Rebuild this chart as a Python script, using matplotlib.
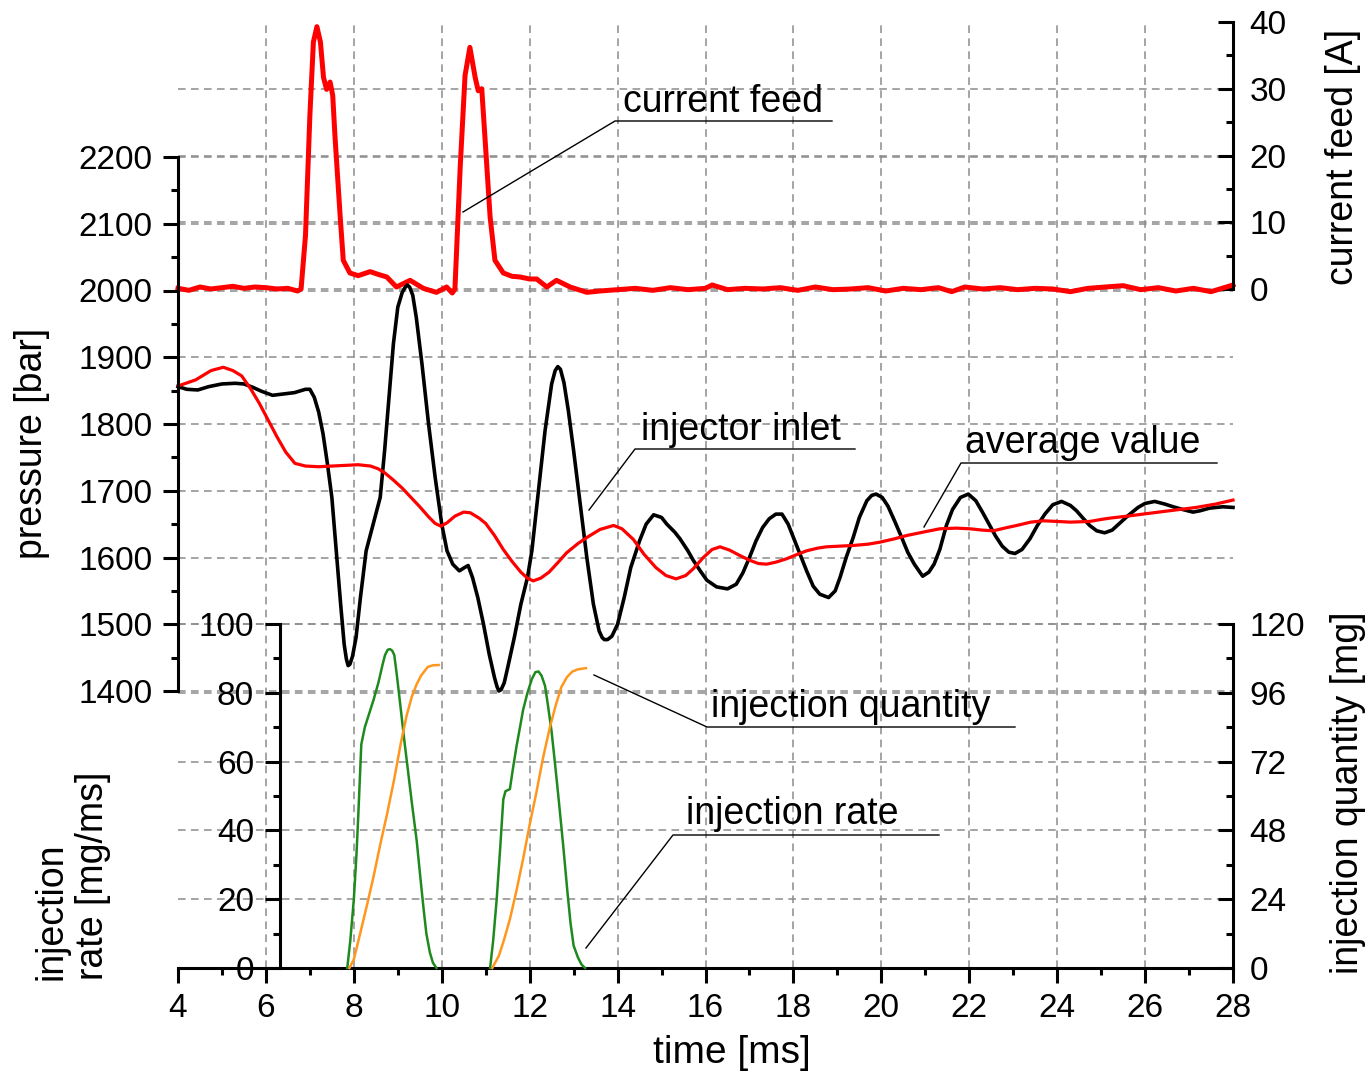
#!/usr/bin/env python3
"""
Injector inlet pressure, current feed and injection rate / quantity vs time.
"""

import matplotlib

matplotlib.use("Agg")
import matplotlib.pyplot as plt
from matplotlib.ticker import MultipleLocator
from matplotlib.transforms import blended_transform_factory

plt.rcParams["font.family"] = ["Liberation Sans", "DejaVu Sans"]

# ---- data ---------------------------------------------------------------
# current feed [A]
current_t = [4.0, 4.25, 4.5, 4.75, 5.0, 5.25, 5.5, 5.75, 6.0, 6.25, 6.5, 6.72,
             6.8, 6.9, 7.0, 7.08, 7.16, 7.24, 7.31, 7.38, 7.46, 7.52, 7.57, 7.69,
             7.76, 7.91, 8.1, 8.37, 8.55, 8.75, 8.97, 9.28, 9.58, 9.88, 10.11,
             10.24, 10.3, 10.42, 10.53, 10.64, 10.76, 10.83, 10.91, 10.98, 11.1,
             11.21, 11.4, 11.6, 11.78, 12.0, 12.16, 12.39, 12.61, 12.92, 13.3,
             13.6, 14.0, 14.4, 14.8, 15.2, 15.6, 16.0, 16.15, 16.5, 16.9, 17.3,
             17.7, 18.1, 18.5, 18.9, 19.3, 19.7, 20.1, 20.5, 20.9, 21.3, 21.6,
             21.9, 22.3, 22.7, 23.1, 23.5, 23.9, 24.3, 24.7, 25.1, 25.5, 25.9,
             26.3, 26.7, 27.1, 27.5, 27.8, 28.0]
current_a = [0.1, -0.2, 0.3, 0.0, 0.2, 0.4, 0.1, 0.3, 0.2, 0.0, 0.1, -0.3,
             0.0, 8.0, 26.0, 37.0, 39.3, 37.0, 31.7, 29.9, 31.0, 29.0, 23.0, 10.8,
             4.3, 2.4, 2.0, 2.6, 2.2, 1.8, 0.3, 1.3, 0.1, -0.5, 0.3,
             -0.6, 0.0, 18.3, 32.0, 36.2, 31.7, 29.7, 30.0, 23.0, 10.8,
             4.3, 2.4, 1.9, 1.8, 1.5, 1.5, 0.3, 1.3, 0.3, -0.5,
             -0.3, -0.1, 0.1, -0.2, 0.2, -0.1, 0.1, 0.6, -0.1, 0.1, 0.0,
             0.2, -0.2, 0.3, -0.1, 0.0, 0.2, -0.3, 0.1, -0.1, 0.2, -0.4,
             0.3, 0.0, 0.2, -0.1, 0.1, 0.0, -0.4, 0.1, 0.3, 0.5, -0.1,
             0.2, -0.3, 0.1, -0.4, 0.2, 0.6]

# injector inlet pressure [bar]
inlet_t = [4.0, 4.2, 4.45, 4.7, 5.0, 5.3, 5.5, 5.7, 5.9, 6.15, 6.4, 6.65, 6.9,
           7.0, 7.1, 7.2, 7.3, 7.4, 7.5, 7.6, 7.7, 7.78, 7.83, 7.87, 7.91, 7.97,
           8.05, 8.15, 8.28, 8.4, 8.5, 8.6, 8.7, 8.8, 8.9, 9.0, 9.1, 9.17, 9.22,
           9.27, 9.34, 9.42, 9.55, 9.7, 9.85, 10.0, 10.12, 10.25, 10.4, 10.52,
           10.6, 10.7, 10.82, 10.95, 11.08, 11.2, 11.26, 11.3, 11.35, 11.42,
           11.5, 11.65, 11.8, 11.95, 12.05, 12.2, 12.35, 12.5, 12.58, 12.64,
           12.7, 12.78, 12.88, 13.0, 13.15, 13.3, 13.45, 13.58, 13.65, 13.7,
           13.77, 13.87, 14.0, 14.15, 14.3, 14.5, 14.65, 14.82, 15.0, 15.12,
           15.3, 15.42, 15.6, 15.72, 15.88, 16.03, 16.25, 16.5, 16.7, 16.85,
           17.0, 17.15, 17.3, 17.45, 17.6, 17.74, 17.88, 18.0, 18.15, 18.3,
           18.45, 18.6, 18.8, 18.95, 19.06, 19.2, 19.36, 19.5, 19.67, 19.78,
           19.88, 20.02, 20.15, 20.3, 20.45, 20.6, 20.75, 20.94, 21.08, 21.2,
           21.33, 21.48, 21.62, 21.8, 21.98, 22.15, 22.3, 22.45, 22.6, 22.75,
           22.9, 23.04, 23.2, 23.38, 23.55, 23.72, 23.9, 24.1, 24.3, 24.44,
           24.6, 24.74, 24.9, 25.08, 25.25, 25.4, 25.6, 25.84, 26.0, 26.22,
           26.45, 26.64, 26.85, 27.09, 27.25, 27.47, 27.77, 28.0]
inlet_p = [1856, 1852, 1851, 1856, 1860, 1861, 1860, 1855, 1849, 1843, 1845,
           1847, 1852, 1852, 1840, 1818, 1785, 1740, 1690, 1610, 1530, 1470,
           1448, 1438, 1440, 1452, 1480, 1540, 1610, 1640, 1665, 1690, 1760,
           1840, 1920, 1975, 1997, 2005, 2008, 2005, 1993, 1960, 1890, 1800,
           1720, 1650, 1610, 1590, 1580, 1585, 1588, 1570, 1540, 1500, 1455,
           1420, 1406, 1400, 1402, 1412, 1435, 1480, 1530, 1570, 1610, 1700,
           1790, 1860, 1880, 1886, 1882, 1862, 1820, 1760, 1680, 1600, 1530,
           1490, 1480, 1477, 1477, 1482, 1500, 1540, 1585, 1625, 1650, 1664,
           1660, 1650, 1638, 1628, 1610, 1596, 1580, 1566, 1556, 1553, 1560,
           1577, 1600, 1625, 1645, 1658, 1665, 1665, 1650, 1630, 1605, 1580,
           1557, 1545, 1540, 1550, 1570, 1600, 1630, 1660, 1685, 1693, 1695,
           1690, 1677, 1655, 1632, 1608, 1590, 1572, 1578, 1590, 1612, 1648,
           1672, 1690, 1695, 1685, 1668, 1650, 1632, 1617, 1608, 1606, 1612,
           1628, 1648, 1665, 1679, 1684, 1678, 1670, 1658, 1648, 1640, 1637,
           1641, 1650, 1662, 1675, 1681, 1684, 1680, 1676, 1672, 1668, 1670,
           1674, 1676, 1675]

# average pressure [bar]
average_t = [4.0, 4.4, 4.75, 5.03, 5.25, 5.45, 5.65, 5.85, 6.05, 6.25, 6.45,
             6.66, 6.9, 7.2, 7.5, 7.8, 8.1, 8.38, 8.55, 8.7, 8.9, 9.1, 9.3, 9.5,
             9.7, 9.85, 9.98, 10.12, 10.3, 10.5, 10.65, 10.85, 11.0, 11.2, 11.4,
             11.6, 11.8, 11.95, 12.08, 12.25, 12.44, 12.65, 12.84, 13.1, 13.35,
             13.6, 13.91, 14.1, 14.36, 14.6, 14.87, 15.1, 15.33, 15.55, 15.72,
             15.95, 16.15, 16.33, 16.55, 16.78, 17.0, 17.2, 17.39, 17.6, 17.84,
             18.1, 18.3, 18.55, 18.75, 19.05, 19.36, 19.7, 19.97, 20.3, 20.58,
             20.95, 21.33, 21.7, 22.02, 22.3, 22.55, 22.8, 23.08, 23.4, 23.69,
             24.0, 24.3, 24.74, 25.0, 25.2, 25.6, 25.95, 26.55, 27.16, 27.6, 28.0]
average_p = [1857, 1866, 1880, 1885, 1880, 1872, 1853, 1831, 1806, 1781, 1758,
             1741, 1737, 1736, 1737, 1738, 1739, 1737, 1733, 1727, 1716, 1704,
             1690, 1676, 1661, 1651, 1647, 1652, 1662, 1668, 1667, 1659, 1651,
             1633, 1612, 1594, 1578, 1569, 1565, 1569, 1578, 1593, 1607, 1621,
             1632, 1642, 1648, 1643, 1627, 1605, 1585, 1573, 1568, 1573, 1583,
             1600, 1612, 1616, 1611, 1603, 1596, 1591, 1590, 1593, 1598, 1605,
             1610, 1614, 1616, 1617, 1618, 1620, 1623, 1628, 1633, 1638, 1643,
             1644, 1643, 1641, 1640, 1644, 1648, 1653, 1655, 1654, 1653, 1654,
             1657, 1659, 1662, 1665, 1670, 1675, 1680, 1686]

# injection rate [mg/ms], two injections
rate1_t = [7.85, 7.92, 8.0, 8.06, 8.1, 8.17, 8.25, 8.35, 8.45, 8.56, 8.65, 8.71,
           8.77, 8.82, 8.87, 8.92, 8.98, 9.07, 9.15, 9.22, 9.32, 9.43, 9.5, 9.58,
           9.65, 9.73, 9.8, 9.88]
rate1 = [0, 8, 20, 33, 44, 65, 70, 74, 78, 83, 88, 91, 92.5, 92.7, 92.3, 91,
         85, 75, 66, 58.6, 48, 37, 28, 18, 10, 4.5, 1.5, 0]
rate2_t = [11.1, 11.17, 11.25, 11.33, 11.4, 11.45, 11.55, 11.62, 11.7, 11.78,
           11.85, 11.95, 12.05, 12.13, 12.2, 12.27, 12.35, 12.42, 12.5, 12.58,
           12.66, 12.76, 12.86, 12.93, 13.0, 13.1, 13.18, 13.26]
rate2 = [0, 8, 20, 35, 49, 51.4, 52, 58, 64.4, 70, 75, 80, 84, 86, 86.2, 85,
         82, 76, 68.6, 59, 49, 36, 22, 13, 6.5, 3, 1, 0]

# injection quantity [mg], two injections
qty1_t = [7.9, 8.0, 8.15, 8.3, 8.45, 8.6, 8.76, 8.92, 9.07, 9.2, 9.32, 9.43,
          9.53, 9.68, 9.8, 9.93]
qty1 = [0, 3, 12.4, 22, 32, 43, 54, 66, 78.5, 88, 94.7, 99, 102, 105, 105.6,
        105.7]
qty2_t = [11.15, 11.3, 11.42, 11.55, 11.7, 11.85, 12.0, 12.15, 12.3, 12.46,
          12.6, 12.72, 12.85, 12.97, 13.1, 13.28]
qty2 = [0, 4.3, 10, 17, 27, 38, 50, 61, 73, 84, 92, 98, 101.5, 103.4, 104.2,
        104.6]

time_ticks = list(range(4, 29, 2))
pressure_ticks = list(range(1400, 2201, 100))
current_ticks = [0, 10, 20, 30, 40]
rate_ticks = [0, 20, 40, 60, 80, 100]
qty_ticks = [0, 24, 48, 72, 96, 120]

# ---- layout (pixels of the 1371 x 1080 output) ---------------------------
W, H = 1371, 1080
X_LEFT, X_RIGHT = 178, 1233
RATE_SPINE_X = 280

TICK_SIZE = 24
LABEL_SIZE = 27
SPINE_W = 2.2
MAJOR_LEN, MINOR_LEN = 10.8, 5.2
GRID = dict(color="#8c8c8c", linewidth=1.1, linestyle=(0, (5, 3.5)), zorder=0)


def px_rect(x0, y0, x1, y1):
    return [x0 / W, 1 - y1 / H, (x1 - x0) / W, (y1 - y0) / H]


def bare_axes(rect, ylim, keep, zorder):
    ax = fig.add_axes(rect, zorder=zorder)
    ax.patch.set_visible(False)
    ax.set_xlim(4, 28)
    ax.set_ylim(*ylim)
    ax.set_xticks([])
    for side, spine in ax.spines.items():
        spine.set_visible(side == keep)
        spine.set_linewidth(SPINE_W)
    return ax


def style_y_ticks(ax, direction, pad):
    ax.tick_params(axis="y", which="major", direction=direction,
                   length=MAJOR_LEN, width=SPINE_W, labelsize=TICK_SIZE, pad=pad)
    ax.tick_params(axis="y", which="minor", direction=direction,
                   length=MINOR_LEN, width=SPINE_W)


fig = plt.figure(figsize=(W / 100, H / 100), dpi=100)

# base axes: time axis + vertical grid
base = fig.add_axes(px_rect(X_LEFT, 22, X_RIGHT, 968), zorder=0)
base.set_xlim(4, 28)
base.set_ylim(0, 1)
base.set_yticks([])
for side in ("left", "right", "top"):
    base.spines[side].set_visible(False)
base.spines["bottom"].set_linewidth(SPINE_W)
base.set_xticks(time_ticks)
base.xaxis.set_minor_locator(MultipleLocator(1))
base.tick_params(axis="x", which="major", direction="out", length=MAJOR_LEN,
                 width=SPINE_W, labelsize=TICK_SIZE, pad=7.5)
base.tick_params(axis="x", which="minor", direction="out", length=MINOR_LEN,
                 width=SPINE_W)
for t in time_ticks[1:-1]:
    base.axvline(t, **GRID)

# pressure axis (left, top part)
ax_p = bare_axes(px_rect(X_LEFT, 157, X_RIGHT, 691), (1400, 2200), "left", 2)
ax_p.set_yticks(pressure_ticks)
ax_p.yaxis.set_minor_locator(MultipleLocator(50))
style_y_ticks(ax_p, "out", 7.5)

# current feed axis (right, top)
ax_c = bare_axes(px_rect(X_LEFT, 22, X_RIGHT, 289), (0, 40), "right", 1)
ax_c.yaxis.tick_right()
ax_c.set_yticks(current_ticks)
ax_c.yaxis.set_minor_locator(MultipleLocator(5))
style_y_ticks(ax_c, "in", 12)

# injection rate axis (left, bottom, spine moved right)
ax_r = bare_axes(px_rect(X_LEFT, 624, X_RIGHT, 968), (0, 100), "left", 3)
ax_r.spines["left"].set_position(
    ("axes", (RATE_SPINE_X - X_LEFT) / (X_RIGHT - X_LEFT)))
ax_r.set_yticks(rate_ticks)
ax_r.yaxis.set_minor_locator(MultipleLocator(10))
style_y_ticks(ax_r, "out", 8)

# injection quantity axis (right, bottom)
ax_q = bare_axes(px_rect(X_LEFT, 624, X_RIGHT, 968), (0, 120), "right", 4)
ax_q.yaxis.tick_right()
ax_q.set_yticks(qty_ticks)
ax_q.yaxis.set_minor_locator(MultipleLocator(12))
style_y_ticks(ax_q, "in", 12)

# horizontal grid lines, all drawn underneath the curves on the base axes
for ax, values in ((ax_p, pressure_ticks), (ax_c, current_ticks[:-1]),
                   (ax_r, rate_ticks[1:])):
    trans = blended_transform_factory(base.transData, ax.transData)
    for v in values:
        base.plot([4, 28], [v, v], transform=trans, clip_on=False, **GRID)

# curves
ax_c.plot(current_t, current_a, color="#ff0000", linewidth=3.6,
          clip_on=False, solid_joinstyle="round")
ax_p.plot(inlet_t, inlet_p, color="black", linewidth=2.6, clip_on=False,
          solid_joinstyle="round")
ax_p.plot(average_t, average_p, color="#ff0000", linewidth=2.3, clip_on=False,
          solid_joinstyle="round")
ax_r.plot(rate1_t, rate1, color="#1e8a1e", linewidth=1.8, clip_on=False)
ax_r.plot(rate2_t, rate2, color="#1e8a1e", linewidth=1.8, clip_on=False)
ax_q.plot(qty1_t, qty1, color="#ff961e", linewidth=1.8, clip_on=False)
ax_q.plot(qty2_t, qty2, color="#ff961e", linewidth=1.8, clip_on=False)

# annotations with underline and leader (pixel coordinates)
ann = fig.add_axes([0, 0, 1, 1], zorder=10)
ann.set_xlim(0, W)
ann.set_ylim(H, 0)
ann.axis("off")
annotations = [
    ("current feed", 623, 112, (832, 121), (615, 121), (463, 212)),
    ("injector inlet", 641, 440, (855, 449), (635, 449), (589, 510)),
    ("average value", 965, 453, (1217, 463), (961, 463), (924, 527)),
    ("injection quantity", 711, 717, (1015, 727), (707, 727), (594, 675)),
    ("injection rate", 686, 824, (939, 835), (673, 835), (586, 948)),
]
for text, tx, ty, right_end, corner, tip in annotations:
    ann.text(tx, ty, text, fontsize=LABEL_SIZE, ha="left", va="baseline")
    ann.plot([tip[0], corner[0], right_end[0]], [tip[1], corner[1], right_end[1]],
             color="black", linewidth=1.0)

# axis titles
fig.text(32 / W, 1 - 443 / H, "pressure [bar]", rotation=90, fontsize=LABEL_SIZE,
         ha="center", va="center")
fig.text(1343 / W, 1 - 157 / H, "current feed [A]", rotation=90,
         fontsize=LABEL_SIZE, ha="center", va="center")
fig.text(72 / W, 1 - 980 / H, "injection\nrate [mg/ms]", rotation=90,
         fontsize=LABEL_SIZE, ha="center", va="bottom", multialignment="left")
fig.text(1348 / W, 1 - 793 / H, "injection quantity [mg]", rotation=90,
         fontsize=LABEL_SIZE, ha="center", va="center")
fig.text(732 / W, 1 - 1053 / H, "time [ms]", fontsize=LABEL_SIZE + 1,
         ha="center", va="center")

fig.savefig("out.png", dpi=100)
